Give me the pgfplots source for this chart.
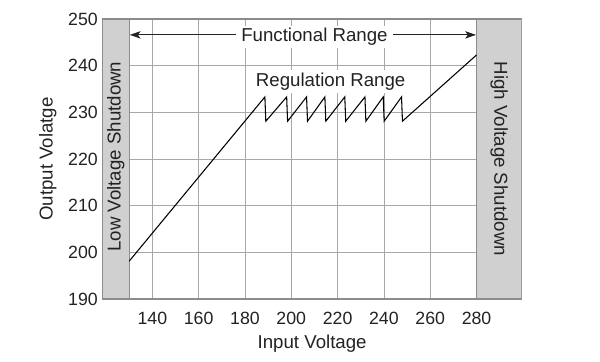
\documentclass[border=0pt]{standalone}
\usepackage{pgfplots}
\pgfplotsset{compat=1.18}
\usetikzlibrary{arrows.meta}
\usepackage{fontspec}
\setmainfont{Liberation Sans}
\definecolor{bandfill}{HTML}{D0D0D0}
\definecolor{bandedge}{HTML}{8C8C8C}
\definecolor{gridc}{HTML}{A8A8A8}
\definecolor{txt}{HTML}{222222}
\begin{document}
\begin{tikzpicture}
\useasboundingbox (-76.9pt,-46.5pt) rectangle (373.1pt,224.25pt);
\begin{axis}[
  at={(0,0)}, anchor=south west,
  scale only axis, width=314.4pt, height=210pt,
  xmin=118.5, xmax=299.5, ymin=190, ymax=250,
  xtick={140,160,...,280}, ytick={190,200,...,250},
  grid=major, major grid style={gridc, line width=0.6pt},
  axis line style={bandedge, line width=0.8pt},
  major tick length=0pt,
  tick label style={font=\fontsize{13.3}{15}\selectfont, txt},
  /pgf/number format/assume math mode=true,
  xticklabel style={yshift=-6pt},
  label style={font=\fontsize{14}{16}\selectfont, txt},
  xlabel={Input Voltage}, ylabel={Output Volatge},
  xlabel style={yshift=-1.5pt},
  ylabel style={yshift=2pt},
]
% shutdown bands
\addplot[fill=bandfill, draw=bandedge, line width=0.8pt] coordinates {(118.5,190) (130,190) (130,250) (118.5,250)} -- cycle;
\addplot[fill=bandfill, draw=bandedge, line width=0.8pt] coordinates {(280,190) (299.5,190) (299.5,250) (280,250)} -- cycle;
% output voltage curve
\addplot[black, line width=0.8pt] coordinates {
(130,198.1) (188.6,233.3) (189.0,228.1) (198.0,233.3) (198.4,228.1)
(206.6,233.3) (207.0,228.1) (214.5,233.3) (214.9,228.1) (223.1,233.3)
(223.5,228.1) (231.8,233.3) (232.2,228.1) (239.7,233.3) (240.1,228.1)
(247.6,233.3) (248.0,228.1) (280,242.3)};
% functional range arrow
\addplot[txt, line width=0.6pt, {Stealth[length=8pt,width=5.5pt,inset=2pt]}-{Stealth[length=8pt,width=5.5pt,inset=2pt]}] coordinates {(130.3,246.6) (279.7,246.6)};
\node[fill=white, inner xsep=4pt, inner ysep=2pt, anchor=base, font=\fontsize{14}{16}\selectfont, text=txt] at (axis cs:210,245.1) {Functional Range};
\node[fill=white, inner xsep=2pt, inner ysep=2pt, anchor=base, font=\fontsize{14}{16}\selectfont, text=txt] at (axis cs:217,235.5) {Regulation Range};
\node[rotate=90, font=\fontsize{14}{16}\selectfont, text=txt] at (axis cs:124.25,220.5) {Low Voltage Shutdown};
\node[rotate=-90, font=\fontsize{14}{16}\selectfont, text=txt] at (axis cs:289.75,220) {High Voltage Shutdown};
\end{axis}
\end{tikzpicture}
\end{document}
